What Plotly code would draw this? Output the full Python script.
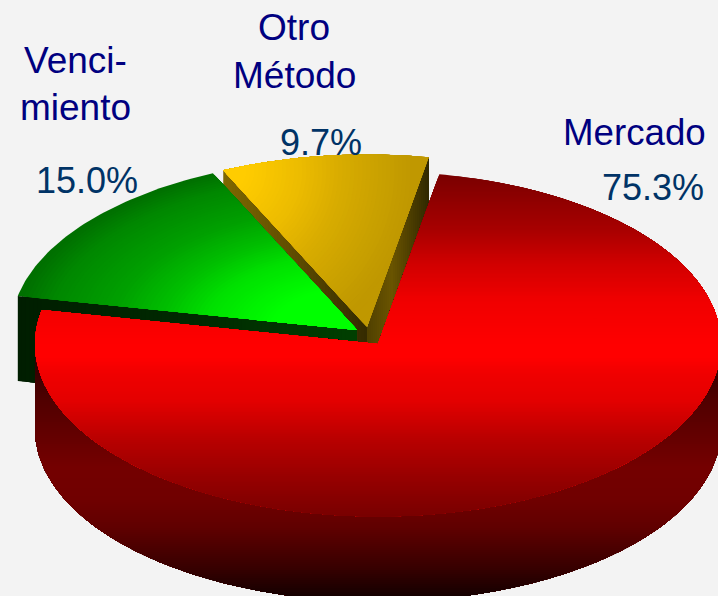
import numpy as np
import plotly.graph_objects as go

# ---- chart data ----
categories = ["Mercado", "Vencimiento", "Otro Método"]
values = [75.3, 15.0, 9.7]
percent_labels = ["75.3%", "15.0%", "9.7%"]

# ---- style / layout ----
W, H = 718, 596
BG = "#f3f3f3"
RX, RY, DEPTH = 343.0, 172.5, 85.0
RX_EXPLODED = 346.0
START_DEG = 10.3
RED_C = (378.0, 344.0)
GREEN_C = (357.0, 330.0)
YELLOW_C = (367.0, 327.0)

sweeps = [v / sum(values) * 360 for v in values]
red_a = (START_DEG, START_DEG + sweeps[0])
green_a = (red_a[1], red_a[1] + sweeps[1])
yellow_a = (green_a[1], green_a[1] + sweeps[2])


def rim(c, a0, a1, n=None, rx=RX):
    n = n or max(4, int(abs(a1 - a0) / 1.0))
    t = np.radians(np.linspace(a0, a1, n))
    return [(c[0] + rx * np.sin(a), c[1] - RY * np.cos(a)) for a in t]


def sector(c, a, rx=RX):
    return [c] + rim(c, a[0], a[1], rx=rx)


def clip(poly, inside, cross):
    out = []
    for i, cur in enumerate(poly):
        prev = poly[i - 1]
        ci, pi = inside(cur), inside(prev)
        if ci != pi:
            out.append(cross(prev, cur))
        if ci:
            out.append(cur)
    return out


def clip_min(poly, axis, level):
    def cross(p, q):
        f = (level - p[axis]) / (q[axis] - p[axis])
        return (p[0] + f * (q[0] - p[0]), p[1] + f * (q[1] - p[1]))
    return clip(poly, lambda p: p[axis] >= level, cross)


def clip_ellipse(poly, c, a, b, n=72):
    for k in range(n):
        th = 2 * np.pi * k / n
        nx, ny = np.cos(th) / a, np.sin(th) / b
        d = lambda p, nx=nx, ny=ny: (p[0] - c[0]) * nx + (p[1] - c[1]) * ny
        def cross(p, q, d=d):
            f = (1 - d(p)) / (d(q) - d(p))
            return (p[0] + f * (q[0] - p[0]), p[1] + f * (q[1] - p[1]))
        poly = clip(poly, lambda p, d=d: d(p) <= 1, cross)
        if not poly:
            break
    return poly


def colour(stops, v):
    xs = [s[0] for s in stops]
    rgb = [int(round(np.interp(v, xs, [int(s[1][i:i + 2], 16) for s in stops]))) for i in (1, 3, 5)]
    return f"rgb({rgb[0]},{rgb[1]},{rgb[2]})"


fig = go.Figure()


def paint(poly, col):
    if len(poly) < 3:
        return
    xs = [p[0] for p in poly] + [poly[0][0]]
    ys = [p[1] for p in poly] + [poly[0][1]]
    fig.add_trace(go.Scatter(x=xs, y=ys, mode="lines", fill="toself", fillcolor=col,
                             line=dict(width=0, color=col), hoverinfo="skip", showlegend=False))


def linear(poly, axis, stops, step=2.0):
    vals = [p[axis] for p in poly]
    lo, hi = min(vals), max(vals)
    v = lo
    while v < hi:
        paint(clip_min(poly, axis, v) if v > lo else poly, colour(stops, v + step / 2))
        v += step


def offset(p):
    return (p[0], p[1] + DEPTH)


# yellow cut faces
yr = rim(YELLOW_C, yellow_a[0], yellow_a[1], rx=345.0)
y_left, y_right = yr[0], yr[-1]
linear([y_left, YELLOW_C, offset(YELLOW_C), offset(y_left)], 0,
       [(222, "#806800"), (300, "#5c4a00"), (367, "#342a00")], 3)
span = y_right[0] - YELLOW_C[0]
linear([YELLOW_C, y_right, offset(y_right), offset(YELLOW_C)], 0,
       [(YELLOW_C[0], "#504000"), (YELLOW_C[0] + 0.4 * span, "#6a5400"), (y_right[0], "#302800")], 2)

# yellow top (radial around the outer left corner)
y_stops = [(25, "#ffcc00"), (78, "#ecbc00"), (118, "#d8ac00"), (163, "#c8a000"), (190, "#c09800")]
ypoly = sector(YELLOW_C, yellow_a, rx=345.0)
paint(ypoly, colour(y_stops, 220))
for d in np.arange(215, 20, -4.0):
    paint(clip_ellipse(ypoly, y_left, d, d), colour(y_stops, d))

# green cut face
gr = rim(GREEN_C, green_a[0], green_a[1], rx=RX_EXPLODED)
g_left = gr[0]
linear([g_left, GREEN_C, offset(GREEN_C), offset(g_left)], 0,
       [(18, "#001e00"), (200, "#002a00"), (360, "#004000")], 4)

# green top (elliptical around the apex)
g_stops = [(0.25, "#00ff00"), (0.45, "#00e000"), (0.57, "#00c000"), (0.72, "#00a000"), (0.9, "#008800"), (1.0, "#007000")]
gpoly = sector(GREEN_C, green_a, rx=RX_EXPLODED)
paint(gpoly, colour(g_stops, 1.0))
for r in np.arange(0.99, 0.22, -0.012):
    paint(clip_ellipse(gpoly, GREEN_C, RX * r, RY * r), colour(g_stops, r))

# red wall
side_stops = [(345, "#200000"), (400, "#500000"), (466, "#740000"), (500, "#700000"), (527, "#600000"),
              (567, "#380000"), (600, "#100000")]
low = rim((RED_C[0], RED_C[1] + DEPTH), 90, 270, 180)
wall = [(RED_C[0] + RX, RED_C[1])] + low + [(RED_C[0] - RX, RED_C[1])]
linear(wall, 1, side_stops, 2.0)

# red top
top_stops = [(172, "#780000"), (230, "#a80000"), (263, "#d00000"), (300, "#f00000"), (345, "#ff0000"),
             (357, "#ff0000"), (373, "#f00000"), (400, "#e40000"), (440, "#b80000"), (480, "#950000"),
             (517, "#780000")]
linear(sector(RED_C, red_a), 1, top_stops, 2.0)

NAVY = "#000080"
PCT = "#003366"
texts = [
    (634, 132, "Mercado", NAVY, 36.7), (653, 187, percent_labels[0], PCT, 36),
    (75, 60, "Venci-", NAVY, 37), (75, 107, "miento", NAVY, 37), (87, 180, percent_labels[1], PCT, 36),
    (294, 27, "Otro", NAVY, 37), (294, 75, "Método", NAVY, 37), (321, 142, percent_labels[2], PCT, 36),
]
annotations = [dict(x=x, y=y, text=t, xref="x", yref="y", showarrow=False, xanchor="center", yanchor="middle",
                    font=dict(family="Liberation Sans, Arial, sans-serif", size=s, color=c))
               for x, y, t, c, s in texts]

fig.update_layout(
    width=W, height=H, margin=dict(l=0, r=0, t=0, b=0), paper_bgcolor=BG, plot_bgcolor=BG,
    showlegend=False, annotations=annotations,
    xaxis=dict(range=[0, W], visible=False, fixedrange=True),
    yaxis=dict(range=[H, 0], visible=False, fixedrange=True),
)
fig.write_html("out.html", config={"displayModeBar": False},
               post_script="document.body.style.margin='0';document.documentElement.style.overflow='hidden';")
